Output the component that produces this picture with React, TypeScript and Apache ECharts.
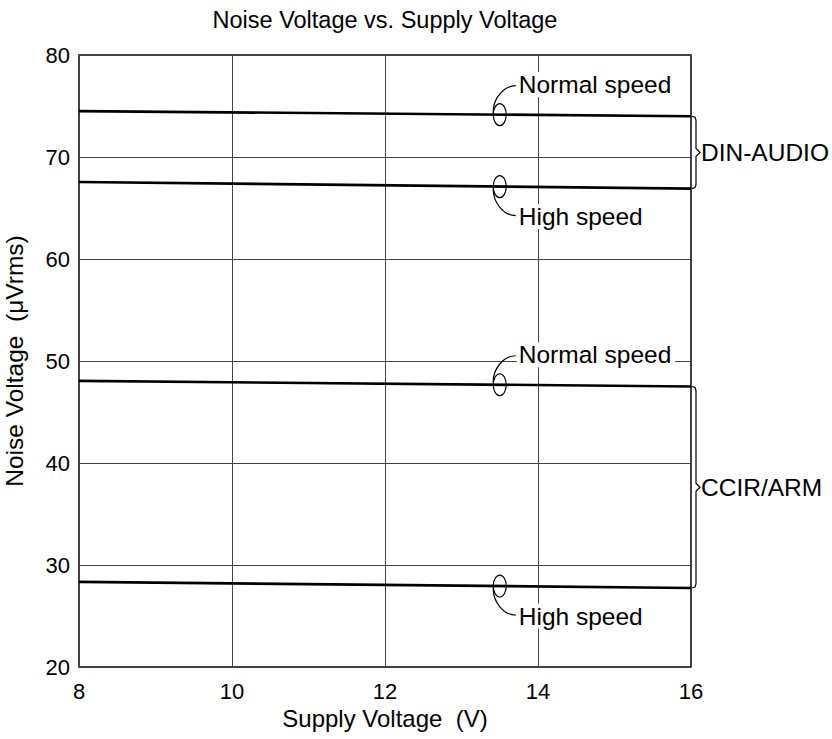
import React, { useEffect, useRef } from "react";
import * as echarts from "echarts";

const supplyVoltage = [8, 16];
const dinNormal = [74.5, 74.0];
const dinHigh = [67.55, 66.9];
const ccirNormal = [48.05, 47.5];
const ccirHigh = [28.35, 27.75];

const titleText = "Noise Voltage vs. Supply Voltage";
const xName = "Supply Voltage  (V)";
const yName = "Noise Voltage  (\u03bcVrms)";
const hookX = 13.5;

const FONT = '"Liberation Sans", Arial, Helvetica, sans-serif';

export default function App() {
  const ref = useRef<HTMLDivElement>(null);

  useEffect(() => {
    if (!ref.current) return;
    const chart = echarts.init(ref.current, null, { renderer: "svg" });
    const mk = (vals: number[]) => supplyVoltage.map((x, i) => [x, vals[i]]);
    const lineSeries = (name: string, vals: number[]) => ({
      name,
      type: "line",
      data: mk(vals),
      symbol: "none",
      lineStyle: { color: "#000", width: 2.6 },
      silent: true,
    });

    chart.setOption({
      animation: false,
      backgroundColor: "#fff",
      textStyle: { fontFamily: FONT },
      grid: {
        left: 79,
        right: 141,
        top: 55,
        bottom: 72,
        containLabel: false,
        outerBoundsMode: "none",
        show: true,
        borderColor: "#000",
        borderWidth: 1.5,
        backgroundColor: "transparent",
      },
      xAxis: {
        type: "value",
        min: 8,
        max: 16,
        interval: 2,
        name: xName,
        nameLocation: "middle",
        nameGap: 33,
        nameTextStyle: { fontSize: 24, color: "#000", fontFamily: FONT, verticalAlign: "top" },
        axisLine: { show: false },
        axisTick: { show: false },
        axisLabel: { fontSize: 22, color: "#000", margin: 13, fontFamily: FONT },
        splitLine: { show: true, lineStyle: { color: "#444", width: 1 } },
      },
      yAxis: {
        type: "value",
        min: 20,
        max: 80,
        interval: 10,
        name: yName,
        nameLocation: "middle",
        nameGap: 52,
        nameTextStyle: { fontSize: 24.5, color: "#000", fontFamily: FONT },
        axisLine: { show: false },
        axisTick: { show: false },
        axisLabel: { fontSize: 22, color: "#000", margin: 9, fontFamily: FONT },
        splitLine: { show: true, lineStyle: { color: "#444", width: 1 } },
      },
      series: [
        lineSeries("DIN-AUDIO Normal speed", dinNormal),
        lineSeries("DIN-AUDIO High speed", dinHigh),
        lineSeries("CCIR/ARM Normal speed", ccirNormal),
        lineSeries("CCIR/ARM High speed", ccirHigh),
      ],
    });

    const px = (x: number, y: number) =>
      chart.convertToPixel({ gridIndex: 0 }, [x, y]) as number[];
    const anchorOn = (vals: number[]) => {
      const a = px(supplyVoltage[0], vals[0]);
      const b = px(supplyVoltage[1], vals[1]);
      const hx = px(hookX, vals[0])[0];
      const t = (hx - a[0]) / (b[0] - a[0]);
      return [hx, a[1] + (b[1] - a[1]) * t];
    };

    const stroke = { stroke: "#000", lineWidth: 1.2, fill: "none" };
    const textStyle = (text: string, x: number, y: number, bg?: boolean) => ({
      type: "text",
      x,
      y,
      style: {
        text,
        fill: "#000",
        font: `24.5px ${FONT}`,
        verticalAlign: "middle",
        align: "left",
        ...(bg ? { backgroundColor: "#fff", padding: [0, 4, 0, 2] } : {}),
      },
      z: 10,
    });

    const hook = (vals: number[], up: boolean, label: string) => {
      const [ax, ay] = anchorOn(vals);
      const s = up ? -1 : 1;
      return [
        {
          type: "ellipse",
          shape: { cx: ax, cy: ay, rx: 6.5, ry: 11 },
          style: stroke,
          z: 9,
        },
        {
          type: "bezierCurve",
          shape: {
            x1: ax - 6.5,
            y1: ay + s * 2,
            cpx1: ax - 7,
            cpy1: ay + s * 16,
            cpx2: ax + 4,
            cpy2: ay + s * 29,
            x2: ax + 16,
            y2: ay + s * 29,
          },
          style: stroke,
          z: 9,
        },
        textStyle(label, ax + 17, ay + s * 30, true),
      ];
    };

    const brace = (topVals: number[], botVals: number[], label: string) => {
      const t = px(supplyVoltage[1], topVals[1]);
      const b = px(supplyVoltage[1], botVals[1]);
      const rx = t[0];
      const top = t[1];
      const bot = b[1];
      const mid = (top + bot) / 2;
      return [
        {
          type: "polyline",
          shape: {
            points: [
              [rx + 1, top],
              [rx + 4, top + 1],
              [rx + 5, top + 4],
              [rx + 5, mid - 4],
              [rx + 9, mid],
              [rx + 5, mid + 4],
              [rx + 5, bot - 4],
              [rx + 4, bot - 1],
              [rx + 1, bot],
            ],
          },
          style: { stroke: "#000", lineWidth: 1.2, fill: "none" },
        },
        textStyle(label, rx + 10, mid),
      ];
    };

    const gridLeft = px(8, 80);
    const gridRight = px(16, 80);

    chart.setOption({
      graphic: [
        {
          type: "text",
          x: (gridLeft[0] + gridRight[0]) / 2,
          y: 20,
          style: {
            text: titleText,
            fill: "#000",
            font: `23.5px ${FONT}`,
            align: "center",
            verticalAlign: "middle",
          },
        },
        ...hook(dinNormal, true, "Normal speed"),
        ...hook(dinHigh, false, "High speed"),
        ...hook(ccirNormal, true, "Normal speed"),
        ...hook(ccirHigh, false, "High speed"),
        ...brace(dinNormal, dinHigh, "DIN-AUDIO"),
        ...brace(ccirNormal, ccirHigh, "CCIR/ARM"),
      ],
    });

    return () => chart.dispose();
  }, []);

  return <div ref={ref} style={{ width: 832, height: 739, position: "absolute", left: 0, top: 0 }} />;
}
